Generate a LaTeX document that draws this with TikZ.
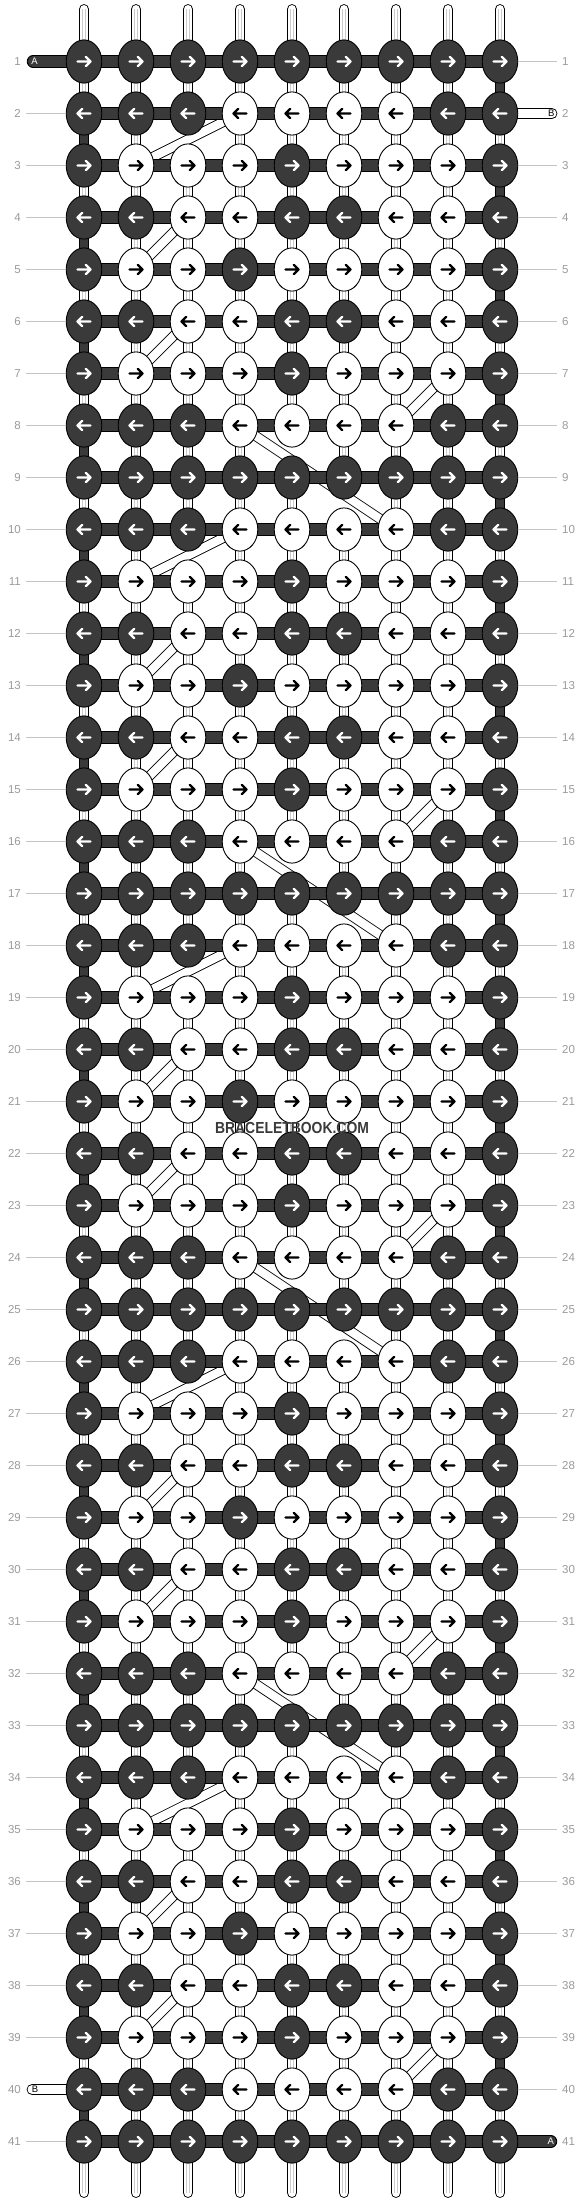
\documentclass[tikz,border=0pt]{standalone}
\usepackage{fontspec}
\setmainfont{Liberation Sans}
\usetikzlibrary{shapes.geometric}
\definecolor{dk}{HTML}{3A3A3A}
\definecolor{lbl}{HTML}{9A9A9A}
\definecolor{lline}{HTML}{C4C4C4}
\definecolor{thr}{HTML}{CACACA}
\pgfdeclarelayer{strands}
\pgfdeclarelayer{bands}
\pgfdeclarelayer{bars}
\pgfsetlayers{strands,bands,bars,main}
\begin{document}
\begin{tikzpicture}[x=1pt,y=-1pt,
  knot/.style={ellipse, draw=black, line width=0.9pt, minimum width=35.6pt, minimum height=43.2pt, inner sep=0pt, outer sep=0pt},
  dknot/.style={knot, fill=dk},
  wknot/.style={knot, fill=white},
  arrw/.style={line width=2.3pt, line cap=round, line join=round},
  hbar/.style={draw=black, line width=0.9pt, double=dk, double distance=10.6pt},
  wbar/.style={draw=black, line width=0.9pt, double=white, double distance=9.4pt},
  vstrand/.style={draw=black, line width=0.9pt, double=white, double distance=8.6pt},
  vdark/.style={draw=black, line width=0.9pt, double=dk, double distance=8.6pt},
  thread/.style={draw=thr, line width=0.7pt},
  band/.style={draw=black, line width=0.85pt, double=white, double distance=8.4pt},
  lblnum/.style={text=lbl, font=\fontsize{11.5}{12}\selectfont, inner sep=0pt},
  lblline/.style={draw=lline, line width=1pt},
  endlbl/.style={font=\fontsize{9.5}{10}\selectfont, inner sep=0pt}
]
\useasboundingbox (0,0) rectangle (584,2204);
\def\patt{{1,1,1,0,0,0,0,1,1, 1,0,0,0,1,0,0,0,1, 1,1,0,0,1,1,0,0,1, 1,0,0,1,0,0,0,0,1, 1,1,0,0,1,1,0,0,1, 1,0,0,0,1,0,0,0,1, 1,1,1,0,0,0,0,1,1, 1,1,1,1,1,1,1,1,1}}
% knots
\foreach \r in {1,...,41}{
  \pgfmathsetmacro\yy{61.5+52*(\r-1)}
  \pgfmathtruncatemacro\mm{mod(\r+6,8)}
  \foreach \c in {1,...,9}{
    \pgfmathsetmacro\xx{84+52*(\c-1)}
    \pgfmathtruncatemacro\dval{\patt[\mm*9+\c-1]}
    \ifnum\dval=1
      \node[dknot] (k\r-\c) at (\xx,\yy) {};
      \def\ac{white}
    \else
      \node[wknot] (k\r-\c) at (\xx,\yy) {};
      \def\ac{black}
    \fi
    \ifodd\r\relax
      \draw[arrw, draw=\ac] (\xx-6.5,\yy) -- (\xx+6.5,\yy) (\xx+1.8,\yy-4.6) -- (\xx+6.5,\yy) -- (\xx+1.8,\yy+4.6);
    \else
      \draw[arrw, draw=\ac] (\xx+6.5,\yy) -- (\xx-6.5,\yy) (\xx-1.8,\yy-4.6) -- (\xx-6.5,\yy) -- (\xx-1.8,\yy+4.6);
    \fi
  }
  % row numbers
  \node[lblnum, anchor=east] (ln\r) at (21,\yy) {\r};
  \node[lblnum, anchor=west] (rn\r) at (562,\yy) {\r};
  \coordinate (lc\r) at (26,\yy);
  \coordinate (rc\r) at (557,\yy);
}
% label lines
\foreach \r in {2,...,39,41}{
  \draw[lblline] (lc\r) -- (k\r-1.west);
}
\foreach \r in {1,3,4,...,40}{
  \draw[lblline] (k\r-9.east) -- (rc\r);
}
% vertical strands
\begin{pgfonlayer}{strands}
\foreach \c in {1,...,9}{
  \pgfmathsetmacro\xx{84+52*(\c-1)}
  \coordinate (t\c) at (\xx,9.3);
  \coordinate (b\c) at (\xx,2192.7);
  \draw[vstrand, line cap=round] (t\c) -- (k1-\c.center);
  \draw[thread] ([xshift=-1.6pt]t\c) -- ([xshift=-1.6pt]k1-\c.center);
  \draw[thread] ([xshift=1.6pt]t\c) -- ([xshift=1.6pt]k1-\c.center);
  \draw[vstrand, line cap=round] (k41-\c.center) -- (b\c);
  \draw[thread] ([xshift=-1.6pt]k41-\c.center) -- ([xshift=-1.6pt]b\c);
  \draw[thread] ([xshift=1.6pt]k41-\c.center) -- ([xshift=1.6pt]b\c);
  \foreach \r in {1,...,40}{
    \pgfmathtruncatemacro\nr{\r+1}
    \pgfmathtruncatemacro\mm{mod(\r+6,8)}
    \pgfmathtruncatemacro\sk{(\c==3 && \mm==0) || (\c==5 && \mm==6 && \r<40) || (\c==6 && \mm==7 && \r>1)}
    \pgfmathtruncatemacro\dkk{(\c==1 && mod(\r,2)==0) || (\c==9 && mod(\r,2)==1)}
    \ifnum\sk=0
      \ifnum\dkk=1
        \draw[vdark] (k\r-\c.center) -- (k\nr-\c.center);
      \else
        \draw[vstrand] (k\r-\c.center) -- (k\nr-\c.center);
        \draw[thread] ([xshift=-1.6pt]k\r-\c.center) -- ([xshift=-1.6pt]k\nr-\c.center);
        \draw[thread] ([xshift=1.6pt]k\r-\c.center) -- ([xshift=1.6pt]k\nr-\c.center);
      \fi
    \fi
  }
}
\end{pgfonlayer}
% diagonal bands
\begin{pgfonlayer}{bands}
\foreach \k in {0,...,4}{
  \pgfmathtruncatemacro\ra{2+8*\k}
  \pgfmathtruncatemacro\rb{3+8*\k}
  \pgfmathtruncatemacro\rc{4+8*\k}
  \pgfmathtruncatemacro\rd{5+8*\k}
  \pgfmathtruncatemacro\re{6+8*\k}
  \pgfmathtruncatemacro\rf{7+8*\k}
  \pgfmathtruncatemacro\rg{8+8*\k}
  \pgfmathtruncatemacro\rh{10+8*\k}
  \draw[band] (k\ra-4.center) -- (k\rb-2.center);
  \draw[band] (k\rc-3.center) -- (k\rd-2.center);
  \draw[band] (k\re-3.center) -- (k\rf-2.center);
  \draw[band] (k\rf-8.center) -- (k\rg-7.center);
  \ifnum\k<4
    \draw[band] (k\rg-4.center) -- (k\rh-7.center);
  \fi
}
\end{pgfonlayer}
% horizontal bars
\begin{pgfonlayer}{bars}
\foreach \r in {1,...,41}{
  \foreach \c in {1,...,8}{
    \pgfmathtruncatemacro\nc{\c+1}
    \draw[hbar] (k\r-\c.center) -- (k\r-\nc.center);
  }
}
\coordinate (Aa) at (33,61.5);
\coordinate (Ab) at (551,2141.5);
\coordinate (Ba) at (551.8,113.5);
\coordinate (Bb) at (32.2,2089.5);
\draw[hbar, line cap=round] (Aa) -- (k1-1.center);
\draw[hbar, line cap=round] (k41-9.center) -- (Ab);
\draw[wbar, line cap=round] (k2-9.center) -- (Ba);
\draw[wbar, line cap=round] (Bb) -- (k40-1.center);
\end{pgfonlayer}
\node[endlbl, text=white] (lA1) at (34.5,61.5) {A};
\node[endlbl, text=white] (lA2) at (550.7,2141.5) {A};
\node[endlbl, text=black] (lB1) at (551.3,113.5) {B};
\node[endlbl, text=black] (lB2) at (35,2089.5) {B};
% watermark
\node[text=dk, font=\bfseries\fontsize{16}{16}\selectfont, inner sep=0pt] (wm) at (292,1127.5) {\scalebox{0.87}[1]{BRACELETBOOK.COM}};
\end{tikzpicture}
\end{document}
